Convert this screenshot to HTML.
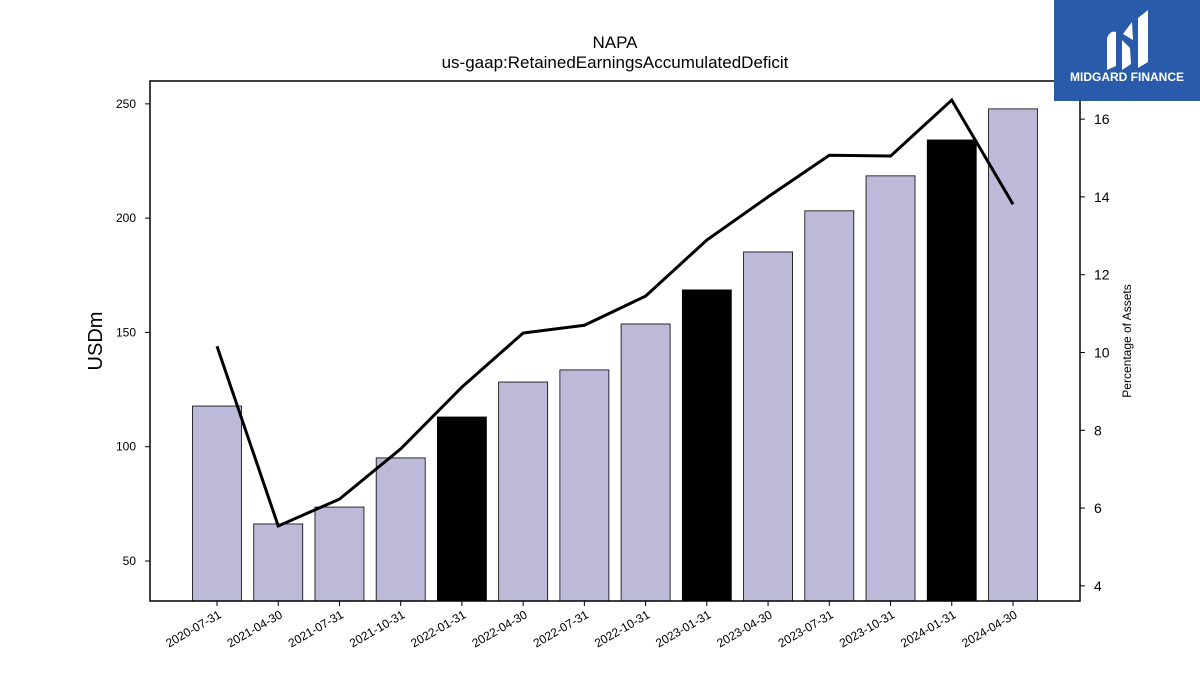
<!DOCTYPE html>
<html><head><meta charset="utf-8"><style>
body{margin:0;background:#fff;width:1200px;height:675px;overflow:hidden;font-family:"Liberation Sans",sans-serif;}
</style></head><body>
<svg id="chart" width="1200" height="675" xmlns="http://www.w3.org/2000/svg">
<text x="615" y="48" text-anchor="middle" font-size="17">NAPA</text>
<text x="615" y="68" text-anchor="middle" font-size="17">us-gaap:RetainedEarningsAccumulatedDeficit</text>
<g id="bars"></g>
<g id="axes"></g>
<rect x="150" y="81" width="930" height="520" fill="none" stroke="#000" stroke-width="1.5"/>
<text transform="translate(102,341) rotate(-90)" text-anchor="middle" font-size="20">USDm</text>
<text transform="translate(1131,341) rotate(-90)" text-anchor="middle" font-size="12">Percentage of Assets</text>
<g>
<rect x="1054" y="0" width="146" height="101" fill="#2a5bab"/>
<path d="M1107 70 L1107 38 Q1110 30 1116 32 L1116 66 Z M1122 70 L1122 40 L1130 48 L1131 64 Z M1123 34 L1132 22 L1133 40 Z M1138 68 L1138 18 L1148 10 L1148 62 Z" fill="#fff"/>
<text x="1127" y="81" text-anchor="middle" font-size="12" font-weight="bold" fill="#fff">MIDGARD FINANCE</text>
</g>
</svg>
<script>
const categories=["2020-07-31","2021-04-30","2021-07-31","2021-10-31","2022-01-31","2022-04-30","2022-07-31","2022-10-31","2023-01-31","2023-04-30","2023-07-31","2023-10-31","2024-01-31","2024-04-30"];
const barValues=[117.8,66.2,73.6,95.1,113,128.3,133.6,153.7,168.6,185.2,203.2,218.5,234.2,247.8];
const highlighted=[false,false,false,false,true,false,false,false,true,false,false,false,true,false];
const pctValues=[10.16,5.54,6.23,7.52,9.11,10.5,10.7,11.45,12.89,14.0,15.07,15.05,16.49,13.81];
const leftTicks=[50,100,150,200,250];
const rightTicks=[4,6,8,10,12,14,16];
const NS="http://www.w3.org/2000/svg";
const yL=v=>601-(v-32.5)*(520/(260-32.5));
const yR=v=>601-(v-3.61)*(520/(16.98-3.61));
const xC=i=>217+i*61.23;
const bars=document.getElementById('bars'),axes=document.getElementById('axes');
function mk(t,a,p){const e=document.createElementNS(NS,t);for(const k in a)e.setAttribute(k,a[k]);p.appendChild(e);return e;}
categories.forEach((c,i)=>{
 const r=mk('rect',{x:xC(i)-24.5,y:yL(barValues[i]),width:49,height:601-yL(barValues[i]),fill:highlighted[i]?'#000':'#bdbad9',stroke:'#000','stroke-width':0.8},bars);
 
 
 mk('line',{x1:xC(i),x2:xC(i),y1:601,y2:606,stroke:'#000'},axes);
 const t=mk('text',{transform:`translate(${xC(i)+5},${617}) rotate(-30)`,'text-anchor':'end','font-size':12},axes);
 t.textContent=c;
 
 
});
leftTicks.forEach(v=>{
 mk('line',{x1:145,x2:150,y1:yL(v),y2:yL(v),stroke:'#000'},axes);
 const t=mk('text',{x:136,y:yL(v)+4,'text-anchor':'end','font-size':12},axes);t.textContent=v;
 
 
});
rightTicks.forEach(v=>{
 mk('line',{x1:1080,x2:1085,y1:yR(v),y2:yR(v),stroke:'#000'},axes);
 const t=mk('text',{x:1094,y:yR(v)+5,'font-size':14},axes);t.textContent=v;
 
 
});
const pl=mk('polyline',{points:pctValues.map((v,i)=>xC(i)+','+yR(v)).join(' '),fill:'none',stroke:'#000','stroke-width':3},bars);


</script>
</body></html>
